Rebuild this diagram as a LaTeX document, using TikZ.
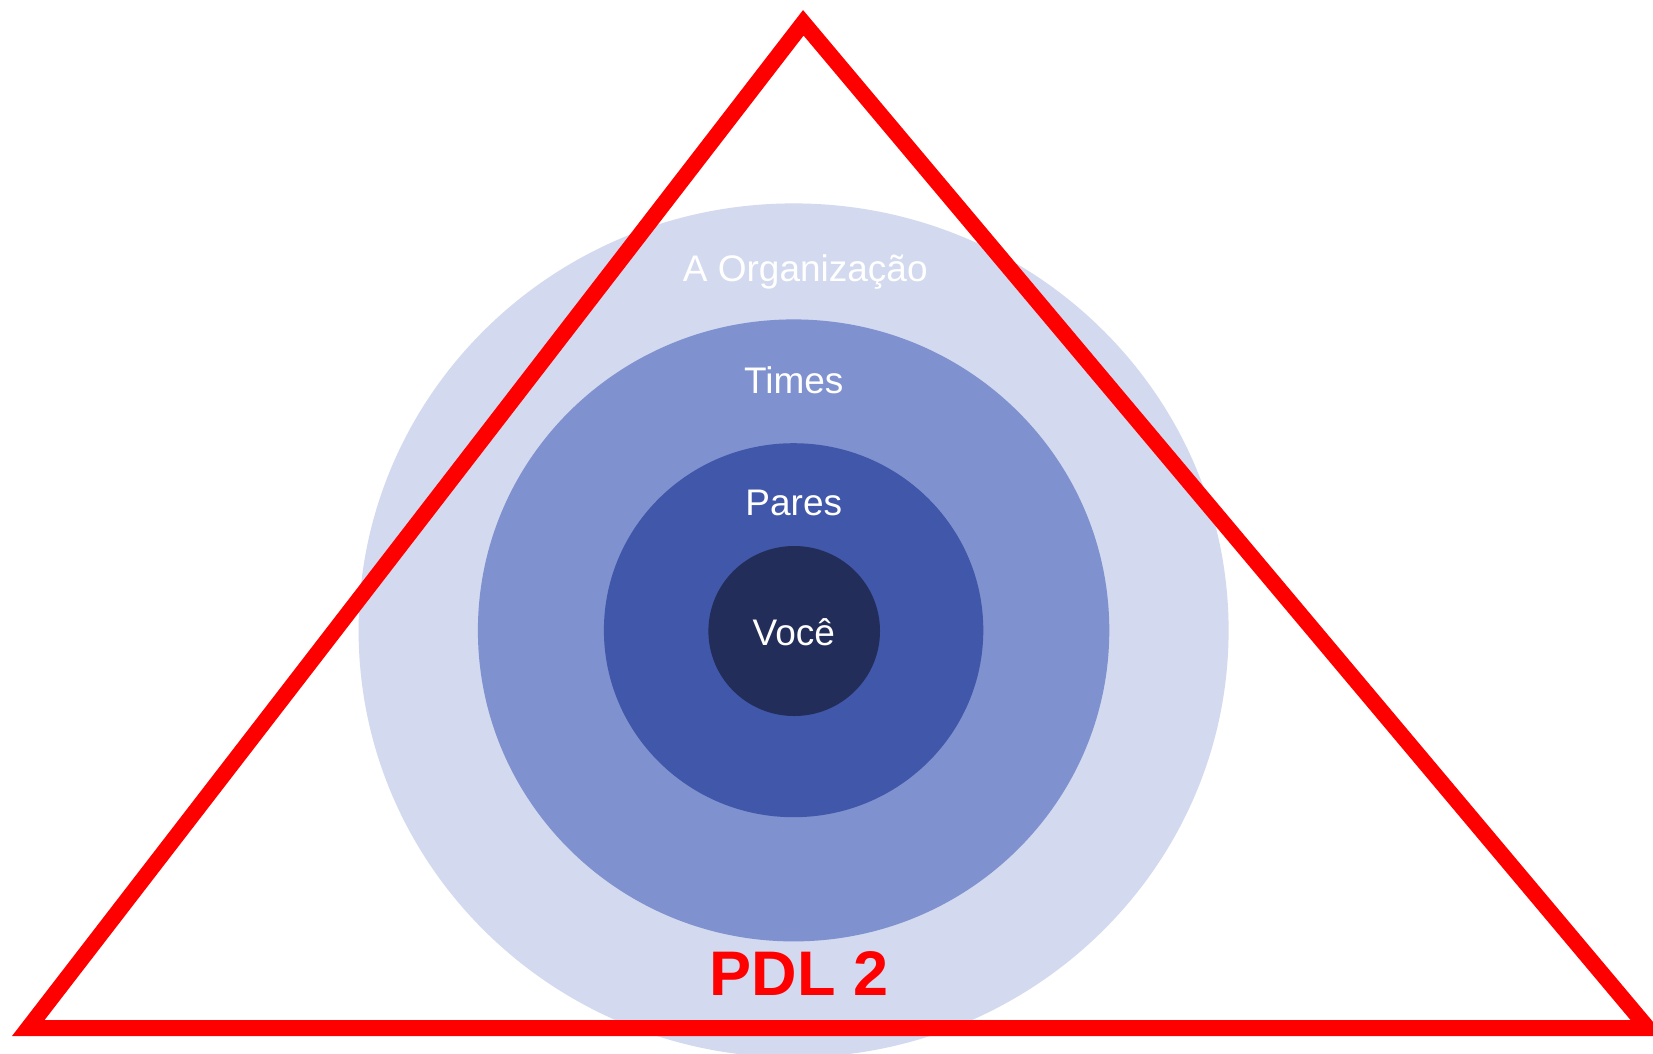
\documentclass[tikz,border=0pt]{standalone}
\usepackage{fontspec}
\setmainfont{Liberation Sans}
\definecolor{ringA}{HTML}{D3D9EE}
\definecolor{ringB}{HTML}{7F91CF}
\definecolor{ringC}{HTML}{4057AA}
\definecolor{ringD}{HTML}{222D5A}
\definecolor{pdlred}{HTML}{FF0000}
\begin{document}
\begin{tikzpicture}[x=1pt,y=-1pt,
  ring/.style={ellipse, draw=none, inner sep=0pt, minimum width=2*#1, minimum height=1.97*#1},
  lbl/.style={text=white, anchor=base, inner sep=0pt, font=\fontsize{37}{44}\selectfont},
  tri/.style={draw=pdlred, line width=16pt, line join=miter},
  pdl/.style={text=pdlred, anchor=base, inner sep=0pt, font=\fontsize{63}{70}\selectfont\bfseries}]
\useasboundingbox (0,0) rectangle (1653,1053);
\clip (0,0) rectangle (1653,1053);
\fill[white] (0,0) rectangle (1653,1053);
% concentric rings
\fill[ringA] (793.6,630.4) ellipse [x radius=435, y radius=427];
\fill[ringB] (793.6,630.4) ellipse [x radius=315.7, y radius=311];
\fill[ringC] (793.6,630.2) ellipse [x radius=189.7, y radius=187];
\fill[ringD] (794.2,631) ellipse [x radius=85.8, y radius=85];
% triangle
\coordinate (tl) at (28.3,1028);
\coordinate (ta) at (803.3,22.8);
\coordinate (tr) at (1647.7,1028);
\draw[tri] (tl) -- (ta) -- (tr) -- cycle;
% labels
\node[lbl] (org) at (805.3,281) {A Organização};
\node[lbl] (times) at (793.8,393) {Times};
\node[lbl] (pares) at (793.8,515.3) {Pares};
\node[lbl] (voce) at (793.8,645) {Você};
\node[pdl] (pdl) at (799.2,995) {PDL 2};
\end{tikzpicture}
\end{document}
